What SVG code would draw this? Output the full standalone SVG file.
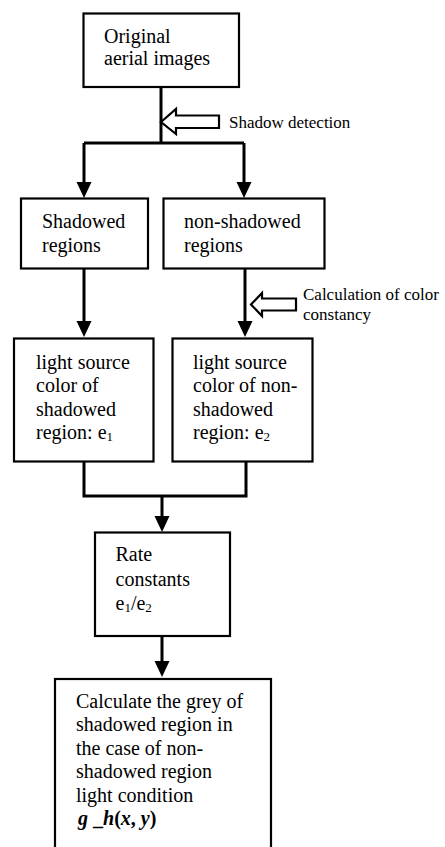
<svg xmlns="http://www.w3.org/2000/svg" width="445" height="847" viewBox="0 0 445 847">
<style>
.box{fill:#fff;stroke:#000;stroke-width:2.2}
.t{font-family:"Liberation Serif","Times New Roman",serif;font-size:20px;fill:#000}
.a{font-family:"Liberation Serif","Times New Roman",serif;font-size:17px;fill:#000}
.c{fill:none;stroke:#000;stroke-width:3}
.h{fill:#fff;stroke:#000;stroke-width:2.2;stroke-linejoin:miter}
.sub{font-size:13px}
</style>
<defs>
<marker id="ah" markerUnits="userSpaceOnUse" markerWidth="16" markerHeight="16" viewBox="0 0 16 16" refX="6" refY="8" orient="auto">
<path d="M0,0.5 L16,8 L0,15.5 z" fill="#000"/>
</marker>
</defs>
<g id="connectors">
<path class="c" d="M161,87 V143"/>
<path class="c" d="M84,143 H244"/>
<path class="c" d="M84,143 V188" marker-end="url(#ah)"/>
<path class="c" d="M244,143 V188" marker-end="url(#ah)"/>
<path class="c" d="M84,268 V327" marker-end="url(#ah)"/>
<path class="c" d="M245,268 V327" marker-end="url(#ah)"/>
<path class="c" d="M84,462 V496 H246 V462"/>
<path class="c" d="M162,496 V522" marker-end="url(#ah)"/>
<path class="c" d="M162,636 V667" marker-end="url(#ah)"/>
</g>
<g id="hint-shadow">
<polygon class="h" points="161,122 176,109 176,115.5 219,115.5 219,128 176,128 176,134"/>
<text class="a" x="229" y="128">Shadow detection</text>
</g>
<g id="hint-color">
<polygon class="h" points="251,304.5 262,293 262,298.5 296,298.5 296,310.5 262,310.5 262,316"/>
<text class="a" x="303" y="300">Calculation of color</text>
<text class="a" x="303" y="320">constancy</text>
</g>
<g id="original">
<rect class="box" x="83.5" y="13.5" width="155.5" height="73.5"/>
<text class="t" x="104" y="43">Original</text>
<text class="t" x="104" y="65">aerial images</text>
</g>
<g id="shadowed">
<rect class="box" x="21" y="198.5" width="127" height="70"/>
<text class="t" x="42" y="228">Shadowed</text>
<text class="t" x="42" y="252">regions</text>
</g>
<g id="nonshadowed">
<rect class="box" x="163.5" y="198.5" width="161" height="70"/>
<text class="t" x="184" y="228">non-shadowed</text>
<text class="t" x="184" y="252">regions</text>
</g>
<g id="light1">
<rect class="box" x="14" y="338.5" width="139.5" height="123"/>
<text class="t" x="36" y="369">light source</text>
<text class="t" x="36" y="392">color of</text>
<text class="t" x="36" y="415.5">shadowed</text>
<text class="t" x="36" y="439">region: e<tspan class="sub" dy="2">1</tspan></text>
</g>
<g id="light2">
<rect class="box" x="172.5" y="338.5" width="140" height="123"/>
<text class="t" x="193" y="369">light source</text>
<text class="t" x="193" y="392">color of non-</text>
<text class="t" x="193" y="415.5">shadowed</text>
<text class="t" x="193" y="439">region: e<tspan class="sub" dy="2">2</tspan></text>
</g>
<g id="rate">
<rect class="box" x="95" y="532.5" width="135" height="103.5"/>
<text class="t" x="115.5" y="561">Rate</text>
<text class="t" x="115.5" y="586">constants</text>
<text class="t" x="115.5" y="610">e<tspan class="sub" dy="2">1</tspan><tspan dy="-2">/e</tspan><tspan class="sub" dy="2">2</tspan></text>
</g>
<g id="calc">
<rect class="box" x="55" y="679" width="216" height="180"/>
<text class="t" x="76" y="707.5">Calculate the grey of</text>
<text class="t" x="76" y="731">shadowed region in</text>
<text class="t" x="76" y="754.5">the case of non-</text>
<text class="t" x="76" y="778">shadowed region</text>
<text class="t" x="76" y="801.5">light condition</text>
<text class="t" x="78" y="825" font-weight="bold"><tspan font-style="italic">g</tspan> _<tspan font-style="italic">h</tspan>(<tspan font-style="italic">x</tspan>, <tspan font-style="italic">y</tspan>)</text>
</g>
</svg>
